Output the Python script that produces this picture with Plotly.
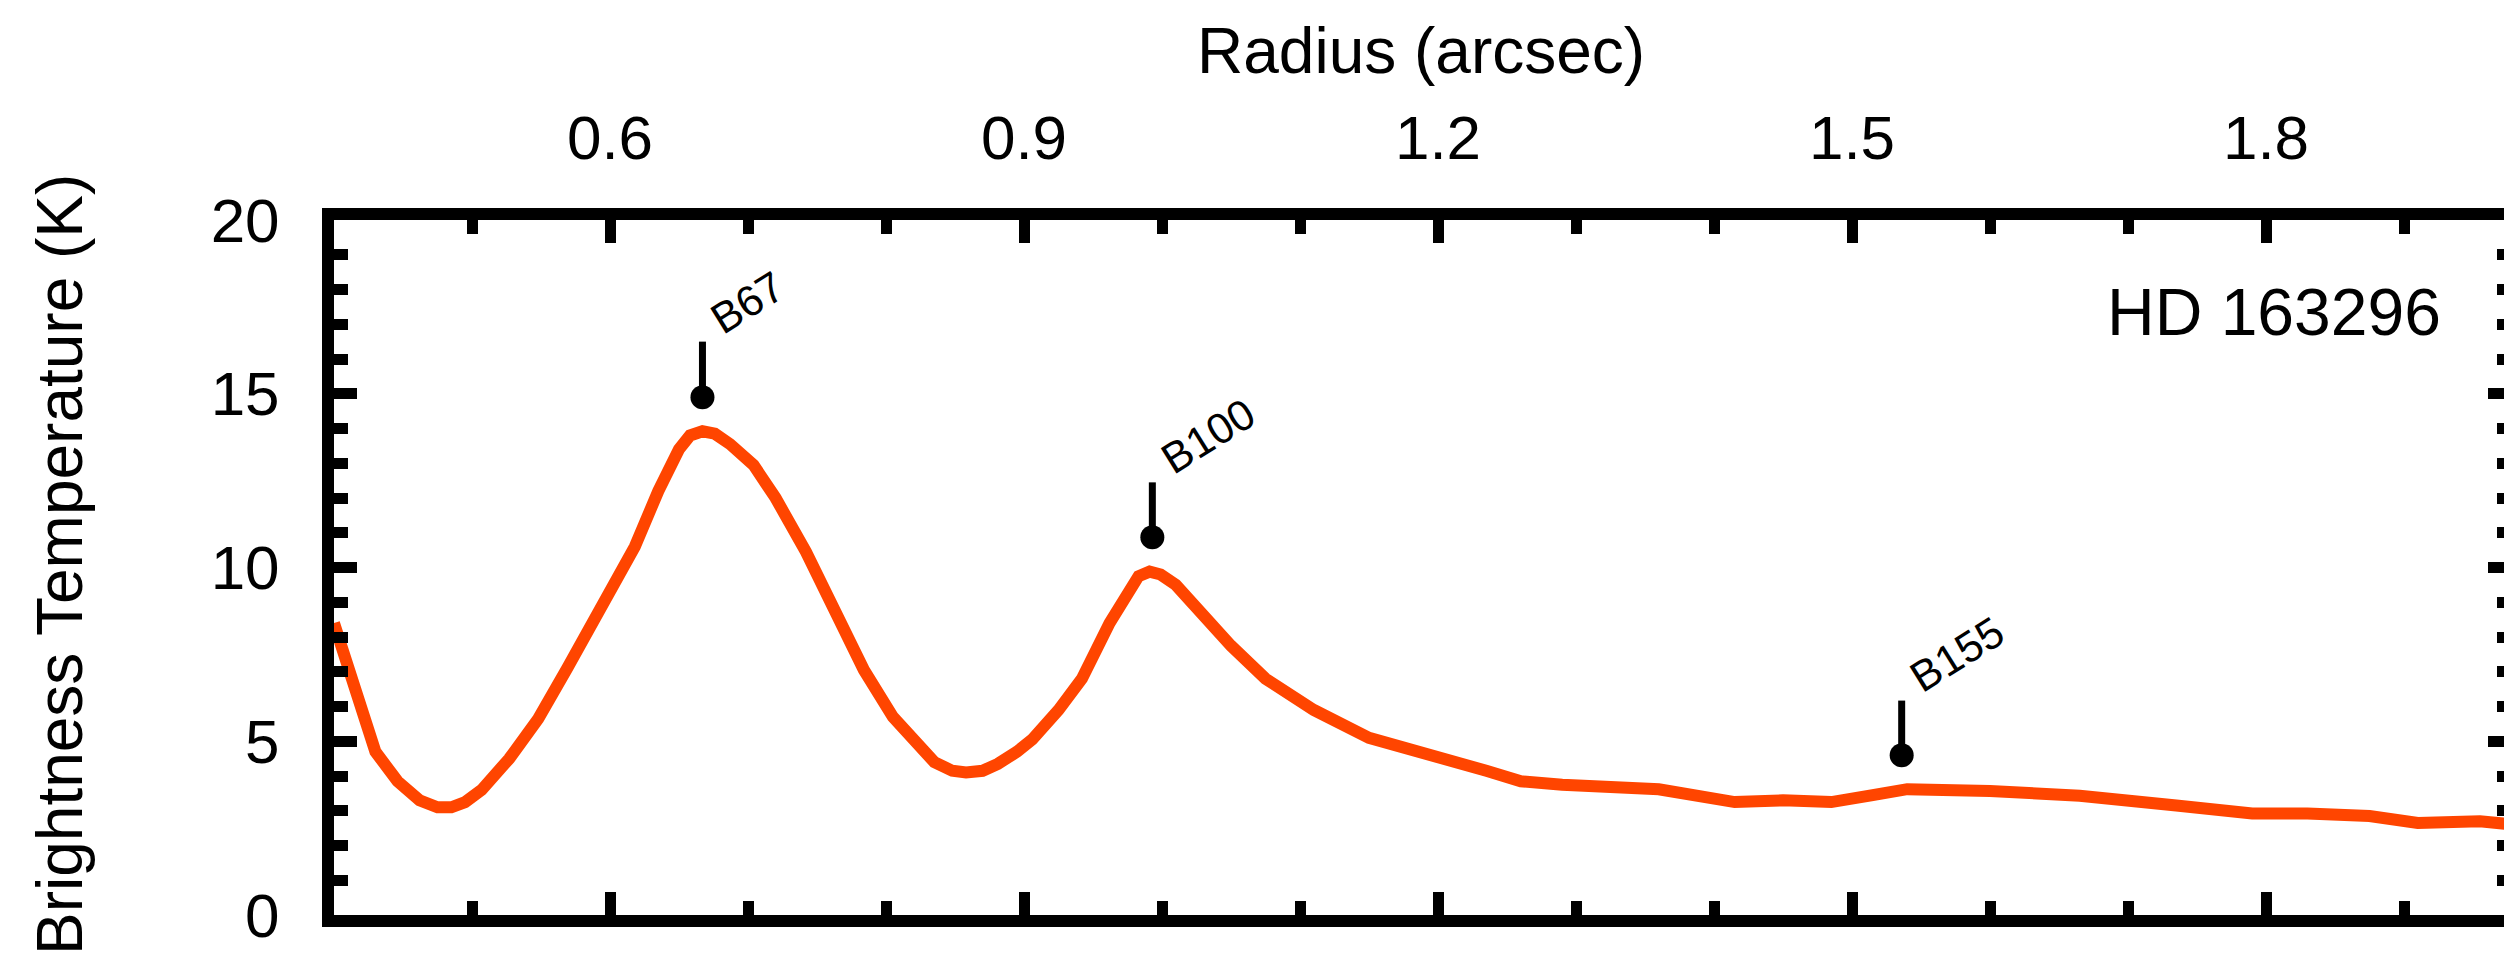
import math
import plotly.graph_objects as go

# ---------------- data ----------------
radius = [0.400, 0.404, 0.408, 0.417, 0.430, 0.446, 0.462, 0.475, 0.485, 0.495,
          0.507, 0.527, 0.548, 0.569, 0.594, 0.618, 0.635, 0.650, 0.658, 0.667,
          0.676, 0.687, 0.704, 0.720, 0.742, 0.763, 0.784, 0.805, 0.818, 0.835,
          0.848, 0.858, 0.870, 0.881, 0.895, 0.906, 0.925, 0.942, 0.962, 0.975,
          0.983, 0.991, 0.999, 1.010, 1.030, 1.050, 1.075, 1.110, 1.150, 1.195,
          1.235, 1.260, 1.290, 1.360, 1.400, 1.415, 1.450, 1.485, 1.515, 1.540,
          1.600, 1.665, 1.735, 1.765, 1.790, 1.830, 1.875, 1.910, 1.935, 1.955,
          1.975]
temperature = [8.4, 7.9, 7.3, 6.1, 4.7, 3.85, 3.3, 3.1, 3.1, 3.25,
               3.6, 4.5, 5.65, 7.1, 8.8, 10.6, 12.2, 13.4, 13.8, 13.92,
               13.85, 13.55, 12.95, 12.0, 10.45, 8.7, 7.05, 5.7, 5.1, 4.4,
               4.15, 4.1, 4.15, 4.35, 4.7, 5.05, 5.9, 6.8, 8.4, 9.3,
               9.75, 9.88, 9.8, 9.5, 8.6, 7.75, 6.8, 5.9, 5.1, 4.55,
               4.15, 3.85, 3.75, 3.62, 3.35, 3.25, 3.3, 3.25, 3.45, 3.62,
               3.57, 3.43, 3.15, 2.98, 2.92, 2.92, 2.85, 2.65, 2.7, 2.7,
               2.62]

ring_names = ["B67", "B100", "B155"]
ring_x = [0.667, 0.993, 1.536]
ring_dot_y = [14.9, 10.87, 4.6]
ring_top_y = [16.5, 12.45, 6.17]

x_ticks = [0.6, 0.9, 1.2, 1.5, 1.8]
y_ticks = [0, 5, 10, 15, 20]

# ---------------- styling / geometry ----------------
W, H = 2504, 968
ML, MT, MR, MB = 334, 220, 0, 53
LW = 12
px_per_x = 1380.0
x0 = 0.4
x1 = x0 + (W - ML - MR) / px_per_x
y0, y1 = 0, 20

FONT = "Liberation Sans, Arial, Helvetica, sans-serif"
ORANGE = "#FF4500"

fig = go.Figure()

fig.add_trace(go.Scatter(
    x=radius, y=temperature, mode="lines",
    line=dict(color=ORANGE, width=12), hoverinfo="skip", showlegend=False,
))

# pins: stems
stem_x, stem_y = [], []
for xx, yd, yt in zip(ring_x, ring_dot_y, ring_top_y):
    stem_x += [xx, xx, None]
    stem_y += [yd, yt, None]
fig.add_trace(go.Scatter(
    x=stem_x, y=stem_y, mode="lines",
    line=dict(color="black", width=7), hoverinfo="skip", showlegend=False,
))
fig.add_trace(go.Scatter(
    x=ring_x, y=ring_dot_y, mode="markers",
    marker=dict(color="black", size=24), hoverinfo="skip", showlegend=False,
))

# invisible trace to carry the right-hand tick axis
fig.add_trace(go.Scatter(x=[1.0], y=[10], yaxis="y2", mode="markers",
                         marker=dict(opacity=0), hoverinfo="skip", showlegend=False))

# ring labels (rotated)
ang = 32.0
lab_size = 43
char_w = {"B": 0.667}
for name, xx, yt in zip(ring_names, ring_x, ring_top_y):
    w = sum(char_w.get(c, 0.556) for c in name) * lab_size
    dx = 13 + 0.5 * w * math.cos(math.radians(ang))
    dy = 19.5 + 0.5 * w * math.sin(math.radians(ang))
    fig.add_annotation(
        x=xx, y=yt, xref="x", yref="y", text=name, showarrow=False,
        textangle=-ang, xanchor="center", yanchor="middle",
        xshift=dx, yshift=dy,
        font=dict(family=FONT, size=lab_size, color="black"),
    )

def px_to_paper_x(px):
    return (px - ML) / (W - ML - MR)

def px_to_paper_y(py):
    return (H - MB - py) / (H - MB - MT)

fig.add_annotation(
    x=px_to_paper_x(1421), y=px_to_paper_y(51), xref="paper", yref="paper",
    text="Radius (arcsec)", showarrow=False, xanchor="center", yanchor="middle",
    font=dict(family=FONT, size=64, color="black"),
)
fig.add_annotation(
    x=px_to_paper_x(60), y=px_to_paper_y(565), xref="paper", yref="paper",
    text="Brightness Temperature (K)", showarrow=False, textangle=-90,
    xanchor="center", yanchor="middle",
    font=dict(family=FONT, size=64, color="black"),
)
fig.add_annotation(
    x=px_to_paper_x(2443), y=px_to_paper_y(312), xref="paper", yref="paper",
    text="HD 163296", showarrow=False, xanchor="right", yanchor="middle",
    font=dict(family=FONT, size=66, color="black"),
)

tickfont = dict(family=FONT, size=62, color="black")

fig.update_layout(
    width=W, height=H,
    margin=dict(l=ML, r=MR, t=MT, b=MB, pad=0),
    paper_bgcolor="white", plot_bgcolor="white",
    showlegend=False,
    xaxis=dict(
        range=[x0, x1], side="top", tickmode="array", tickvals=x_ticks,
        ticktext=[f"{v:.1f}" for v in x_ticks],
        ticks="inside", ticklen=23, tickwidth=11, tickcolor="black",
        minor=dict(dtick=0.1, tick0=0, ticks="inside", ticklen=14, tickwidth=11, tickcolor="black"),
        showline=True, linewidth=LW, linecolor="black", mirror="ticks",
        showgrid=False, zeroline=False, tickfont=tickfont, ticklabelstandoff=24,
    ),
    yaxis=dict(
        range=[y0, y1], tickmode="array", tickvals=y_ticks,
        ticks="inside", ticklen=23, tickwidth=11, tickcolor="black",
        minor=dict(dtick=1, tick0=0, ticks="inside", ticklen=14, tickwidth=11, tickcolor="black"),
        showline=True, linewidth=LW, linecolor="black", mirror=False,
        showgrid=False, zeroline=False, tickfont=tickfont, ticklabelstandoff=30,
    ),
    yaxis2=dict(
        range=[y0, y1], overlaying="y", side="right", tickmode="array", tickvals=y_ticks,
        ticks="inside", ticklen=16, tickwidth=11, tickcolor="black",
        minor=dict(dtick=1, tick0=0, ticks="inside", ticklen=7, tickwidth=11, tickcolor="black"),
        showline=False, showticklabels=False, showgrid=False, zeroline=False,
    ),
)

fig.write_html("out.html")
